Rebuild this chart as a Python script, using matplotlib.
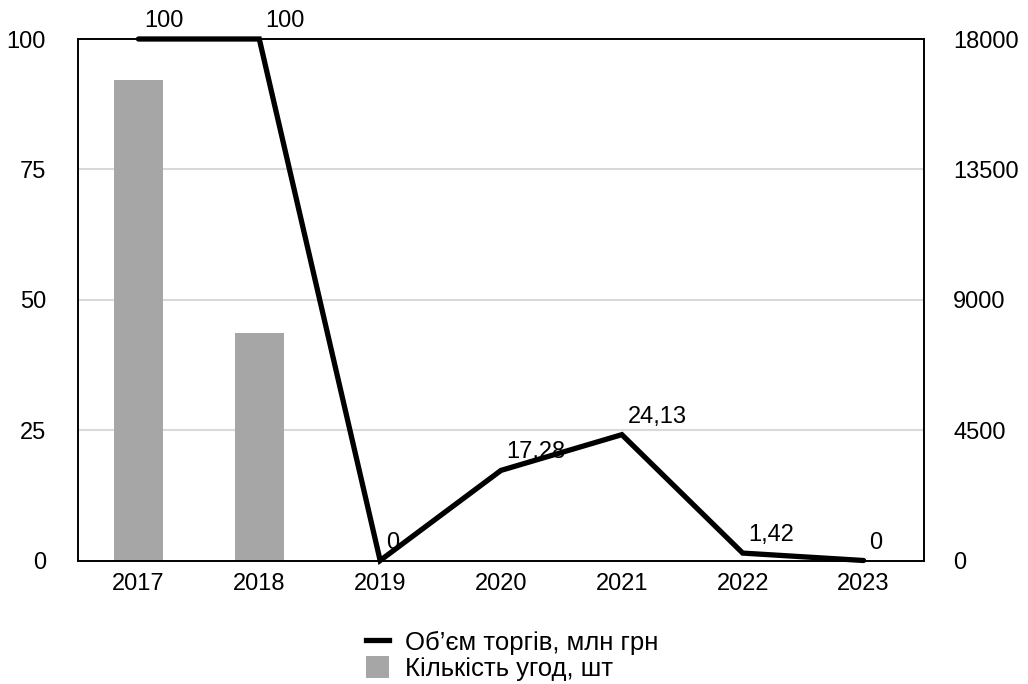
import matplotlib
matplotlib.use("Agg")
import matplotlib.pyplot as plt
from matplotlib.lines import Line2D
from matplotlib.patches import Patch

years = ["2017", "2018", "2019", "2020", "2021", "2022", "2023"]
volume = [100, 100, 0, 17.28, 24.13, 1.42, 0]
volume_labels = ["100", "100", "0", "17,28", "24,13", "1,42", "0"]
deals = [16580, 7850, 0, 0, 0, 0, 0]
left_ticks = [0, 25, 50, 75, 100]
right_ticks = [0, 4500, 9000, 13500, 18000]

plt.rcParams['font.family'] = ['Liberation Sans', 'DejaVu Sans']
FS = 17
LFS = 18.5

fig = plt.figure(figsize=(10.28, 6.84), dpi=100)
ax = fig.add_axes([78/1028, 1-560.5/684, (924-78)/1028, (560.5-39)/684])
ax2 = ax.twinx()

x = list(range(len(years)))

# bars on right axis
ax2.bar(x, deals, width=0.405, color="#a6a6a6", zorder=1)
ax2.set_ylim(0, 18000)
ax2.set_yticks(right_ticks)
ax2.set_yticklabels([str(t) for t in right_ticks], fontsize=FS)
ax2.tick_params(axis='y', length=0, pad=21)

# line on left axis, drawn on top
ax.set_zorder(ax2.get_zorder() + 1)
ax.patch.set_visible(False)
ax.plot(x, volume, color="black", lw=3.8, solid_capstyle='round', solid_joinstyle='miter', zorder=3, clip_on=False)
for xi, v, lab in zip(x, volume, volume_labels):
    ax.annotate(lab, (xi, v), xytext=(4, 5), textcoords='offset points',
                ha='left', va='bottom', fontsize=FS, color='black', annotation_clip=False)
ax.set_ylim(0, 100)
ax.set_xlim(-0.5, len(years) - 0.5)
ax.set_yticks(left_ticks)
ax.set_yticklabels([str(t) for t in left_ticks], fontsize=FS)
ax.set_xticks(x)
ax.set_xticklabels(years, fontsize=FS)
ax.tick_params(axis='y', length=0, pad=23)
ax.tick_params(axis='x', length=0, pad=9)
ax2.grid(False)
for t in [25, 50, 75]:
    ax2.axhline(t * 180, color="#d9d9d9", lw=1.5, zorder=0)

for a in (ax, ax2):
    for s in a.spines.values():
        s.set_color("black")
        s.set_linewidth(1.2)

handles = [Line2D([0], [0], color='black', lw=3.8),
           Patch(facecolor='#a6a6a6', edgecolor='none')]
labels = ["Об’єм торгів, млн грн", "Кількість угод, шт"]
fig.legend(handles, labels, loc='center', bbox_to_anchor=(0.498, 0.042),
           frameon=False, fontsize=LFS, handlelength=0.9, handleheight=0.95,
           handletextpad=0.6, labelspacing=0.05, borderpad=0.1)

fig.savefig("out.png", dpi=100)
